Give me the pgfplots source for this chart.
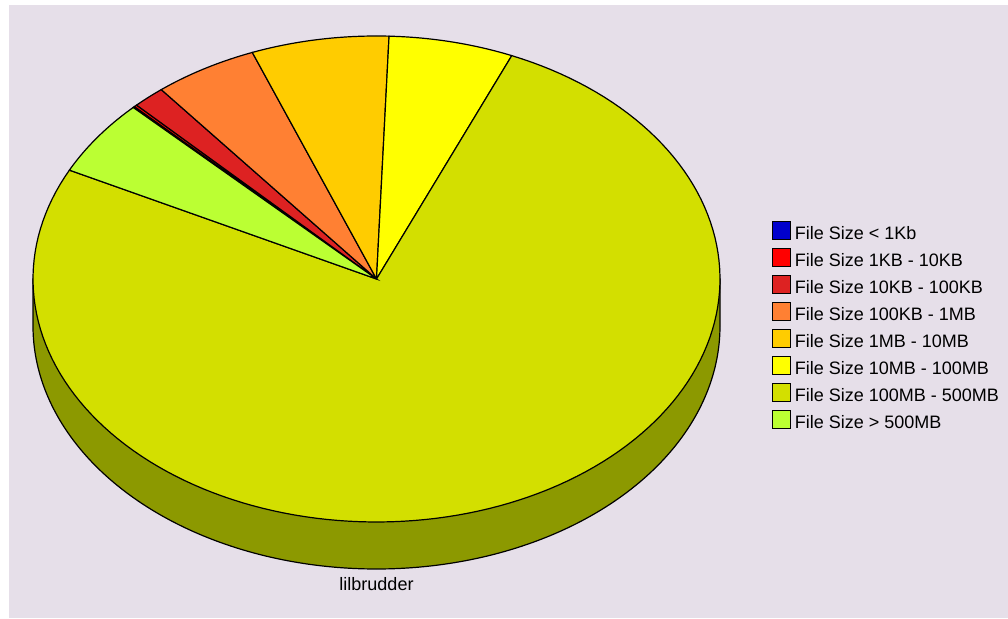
\documentclass[border=0pt]{standalone}
\usepackage{fontspec}
\setmainfont{Liberation Sans}
\usepackage{pgfplots}
\usepackage{pgfplotstable}
\pgfplotsset{compat=1.18}

\definecolor{bgc}{RGB}{230,223,233}
\definecolor{sidec}{RGB}{140,153,0}
\definecolor{c0}{RGB}{0,0,204}
\definecolor{c1}{RGB}{255,0,0}
\definecolor{c2}{RGB}{221,34,34}
\definecolor{c3}{RGB}{255,128,51}
\definecolor{c4}{RGB}{255,204,0}
\definecolor{c5}{RGB}{255,255,0}
\definecolor{c6}{RGB}{211,223,0}
\definecolor{c7}{RGB}{187,255,51}

% share of each file size class, percent
\pgfplotstableread{
idx pct
0 0.08
1 0.14
2 1.53
3 4.89
4 6.47
5 5.86
6 75.95
7 5.08
}\piedata

\def\cum{135.1}
\pgfplotsforeachungrouped \i in {0,...,7}{%
  \pgfplotstablegetelem{\i}{pct}\of\piedata
  \pgfmathsetmacro\nxt{\cum-3.6*\pgfplotsretval}%
  \expandafter\xdef\csname aS\i\endcsname{\cum}%
  \expandafter\xdef\csname aE\i\endcsname{\nxt}%
  \global\let\cum\nxt
}

\begin{document}
\begin{tikzpicture}
\begin{axis}[
  width=1008pt, height=618pt, scale only axis,
  xmin=0, xmax=1008, ymin=0, ymax=618,
  axis line style={draw=none}, ticks=none,
  axis background/.style={fill=white},
  legend style={at={(axis cs:772,397)}, anchor=north west, draw=none, fill=none,
    font=\fontsize{18}{20}\selectfont, row sep=4pt, inner sep=0pt, outer sep=0pt,
    nodes={inner sep=0pt, text height=13pt, text depth=4pt}, column sep=4pt},
  legend image code/.code={\draw[#1, draw=black, line width=0.9pt] (0pt,-4pt) rectangle (18pt,14pt);},
  legend cell align=left,
]
\fill[bgc] (axis cs:9,0) rectangle (axis cs:1008,613);
\addplot[forget plot, fill=sidec, draw=black, line width=1.2pt, domain=180:360, samples=181]
  ({376.5+343.5*cos(x)},{339-47+243*sin(x)}) -- (axis cs:720,339) -- (axis cs:33,339) -- cycle;
\pgfplotsinvokeforeach{0,...,7}{
  \addplot[fill=c#1, draw=black, line width=1.2pt,
    domain=\csname aE#1\endcsname:\csname aS#1\endcsname, samples=150]
    ({376.5+343.5*cos(x)},{339+243*sin(x)}) -- (axis cs:376.5,339) -- cycle;
}
\legend{File Size < 1Kb, File Size 1KB - 10KB, File Size 10KB - 100KB, File Size 100KB - 1MB,
  File Size 1MB - 10MB, File Size 10MB - 100MB, File Size 100MB - 500MB, File Size > 500MB}
\node[font=\fontsize{18}{20}\selectfont, anchor=base] at (axis cs:376.5,28) {lilbrudder};
\end{axis}
\end{tikzpicture}
\end{document}
